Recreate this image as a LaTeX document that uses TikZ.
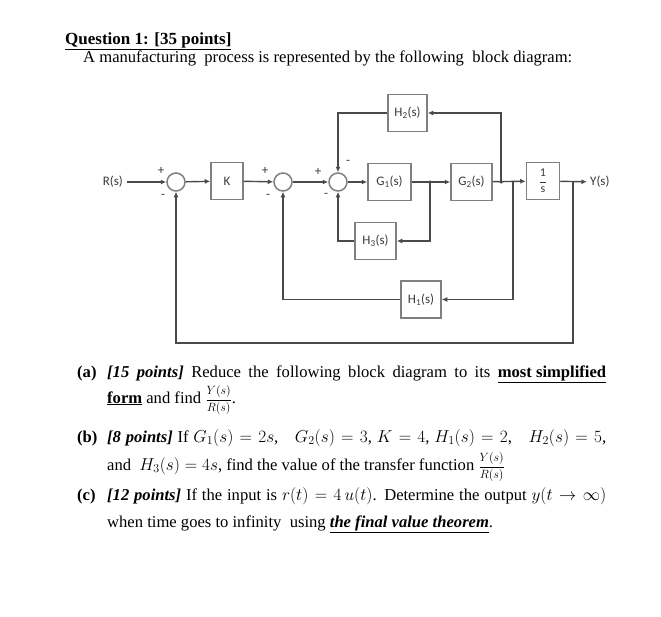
\documentclass[tikz,border=0pt]{standalone}
\usepackage{fontspec}
\setmainfont{Liberation Serif}
\newfontfamily\blockfont{Carlito}
\usetikzlibrary{arrows.meta,positioning}
\definecolor{wireline}{HTML}{4A4A4A}
\definecolor{boxline}{HTML}{808080}
\definecolor{blocktext}{HTML}{3A3A3A}
\newcommand{\ratiofrac}{{\fontsize{11.5}{12}\selectfont$\displaystyle\frac{Y(s)}{R(s)}$}}

\begin{document}
\begin{tikzpicture}[
    x=1pt, y=-1pt,
    >={Latex[length=5.5pt,width=5pt]},
    every node/.style={inner sep=0pt},
    block/.style={draw=boxline, line width=1.5pt, minimum width=#1, minimum height=37pt,
                  font=\blockfont\fontsize{13}{15}\selectfont, text=blocktext},
    block/.default=41pt,
    sumjoint/.style={circle, draw=boxline, line width=1.5pt, minimum size=18pt},
    wire/.style={draw=wireline, line width=1.4pt},
    sign/.style={font=\blockfont\fontsize{13}{15}\selectfont, text=blocktext},
    branch/.style={circle, fill=wireline, minimum size=3.5pt},
    txt/.style={anchor=base west, font=\fontsize{16.6}{19}\selectfont}
]
\useasboundingbox (0,0) rectangle (661,616);

% heading
\node[txt, font=\fontsize{17}{20}\selectfont] (title) at (65,44) {\underline{\textbf{Question 1: [35 points]}}};
\node[txt] (intro) at (83,62) {A manufacturing\ \ process is represented by the following\ \ block diagram:};

% forward path
\node[sign, anchor=east, inner xsep=4pt] (rin) at (127,182) {R(s)};
\node[sumjoint] (s1) at (176,182) {};
\node[block=32pt] (k) at (227,181) {K};
\node[sumjoint] (s2) at (283,182) {};
\node[sumjoint] (s3) at (338,182) {};
\node[block=43pt] (g1) at (389.5,182) {G\textsubscript{1}(s)};
\node[block] (g2) at (471.5,182) {G\textsubscript{2}(s)};
\node[block=33pt, font=\blockfont\fontsize{12}{12}\selectfont] (inv) at (543,181) {$\displaystyle\frac{\mbox{1}}{\mbox{s}}$};
\node[sign, anchor=west, inner xsep=3pt] (yout) at (587,182) {Y(s)};

% feedback blocks
\node[block=39pt] (h2) at (407.5,113) {H\textsubscript{2}(s)};
\node[block] (h3) at (375.5,241) {H\textsubscript{3}(s)};
\node[block=40pt] (h1) at (421,299.5) {H\textsubscript{1}(s)};

\coordinate (b1) at (430,182);
\coordinate (b2) at (501,182);
\coordinate (b3) at (513,182);
\coordinate (b4) at (573,182);
\coordinate (fbcorner) at (573,343);
\node[branch] (dot1) at (b1) {};
\node[branch] (dot2) at (b2) {};

\draw[wire,->] (rin) -- (s1);
\draw[wire,->] (s1) -- (k);
\draw[wire,->] (k) -- (s2);
\draw[wire,->] (s2) -- (s3);
\draw[wire,->] (s3) -- (g1);
\draw[wire,->] (g1) -- (g2);
\draw[wire,->] (g2) -- (inv);
\draw[wire,->] (inv) -- (yout);

\draw[wire,->] (b2) -- (b2 |- h2) -- (h2);
\draw[wire,->] (h2) -| (s3);
\draw[wire,->] (b1) |- (h3);
\draw[wire,->] (h3) -| (s3);
\draw[wire,->] (b3) |- (h1);
\draw[wire,->] (h1) -| (s2);
\draw[wire,->] (b4) -- (fbcorner) -| (s1);

% signs
\node[sign] (p1) at (161,171) {+};
\node[sign] (m1) at (163,196) {-};
\node[sign] (p2) at (265,171) {+};
\node[sign] (m2) at (268,196) {-};
\node[sign] (p3) at (318,172) {+};
\node[sign] (m3) at (326,195) {-};
\node[sign] (m4) at (348,162) {-};

% questions
\node[txt] (qa) at (77,377) {\textbf{(a)}};
\node[txt] (qa1) at (107,377) {\hbox to 499pt{\textbf{\textit{[15 points]}} Reduce the following block diagram to its \underline{\textbf{most simplified}}}};
\node[txt] (qa2) at (107,403) {\underline{\textbf{form}} and find \ratiofrac.};
\node[txt] (qb) at (77,442) {\textbf{(b)}};
\node[txt] (qb1) at (107,442) {\hbox to 499pt{\textbf{\textit{[8 points]}} If $G_1(s)=2s$,\quad $G_2(s)=3$, $K=4$,\ $H_1(s)=2$,\quad $H_2(s)=5$,}};
\node[txt] (qb2) at (107,470) {and\ \ $H_3(s)=4s$, find the value of the transfer function \ratiofrac};
\node[txt] (qc) at (77,500) {\textbf{(c)}};
\node[txt] (qc1) at (107,500) {\hbox to 499pt{\textbf{\textit{[12 points]}} If the input is $r(t)=4\,u(t)$. Determine the output $y(t\rightarrow\infty)$}};
\node[txt] (qc2) at (107,527) {when time goes to infinity\ \ using \underline{\textbf{\textit{the final value theorem}}}.};

\end{tikzpicture}
\end{document}
